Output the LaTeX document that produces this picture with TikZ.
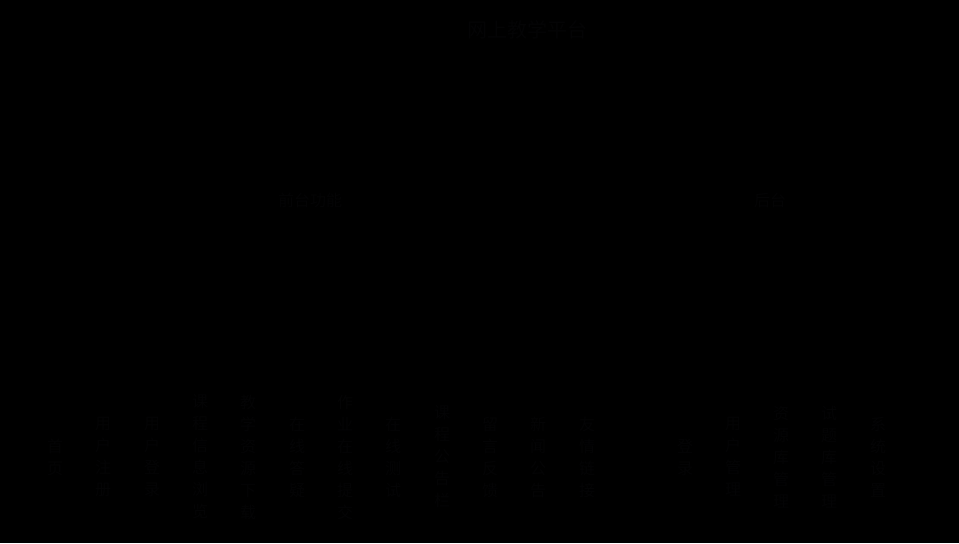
\documentclass[tikz,border=0pt]{standalone}
\usepackage{fontspec}
\setmainfont{Noto Sans CJK SC}
\usetikzlibrary{positioning}
\definecolor{ink}{RGB}{4,4,5}

\begin{document}
\begin{tikzpicture}[x=0.75pt, y=-0.75pt,
    top/.style={draw=black, text=ink, font=\fontsize{15}{18}\selectfont, inner sep=4pt},
    mid/.style={draw=black, text=ink, font=\fontsize{12}{15}\selectfont, inner sep=4pt},
    leaf/.style={draw=black, text=ink, font=\fontsize{12}{16.5}\selectfont, align=center, text width=12pt, inner sep=3pt},
    link/.style={draw=black, line width=0.6pt},
    ]
	% Background and frame
	\fill[black] (0,0) rectangle (959,543);
	\useasboundingbox (0,0) rectangle (959,543);

	% Root
	\node[top] (root) at (527,30) {网上教学平台};
	% Second level
	\node[mid] (front) at (310,200) {前台功能};
	\node[mid] (back) at (770,200) {后台};

	% Leaves: front
	\node[leaf] (f1) at (55,457) {首\\页};
	\node[leaf] (f2) at (103,457) {用\\户\\注\\册};
	\node[leaf] (f3) at (152,457) {用\\户\\登\\录};
	\node[leaf] (f4) at (200,457) {课\\程\\信\\息\\浏\\览};
	\node[leaf] (f5) at (248,457) {教\\学\\资\\源\\下\\载};
	\node[leaf] (f6) at (297,457) {在\\线\\答\\疑};
	\node[leaf] (f7) at (345,457) {作\\业\\在\\线\\提\\交};
	\node[leaf] (f8) at (393,457) {在\\线\\测\\试};
	\node[leaf] (f9) at (442,457) {课\\程\\公\\告\\栏};
	\node[leaf] (f10) at (490,457) {留\\言\\反\\馈};
	\node[leaf] (f11) at (538,457) {新\\闻\\公\\告};
	\node[leaf] (f12) at (587,457) {友\\情\\链\\接};
	% Leaves: back
	\node[leaf] (b1) at (685,457) {登\\录};
	\node[leaf] (b2) at (733,457) {用\\户\\管\\理};
	\node[leaf] (b3) at (781,457) {资\\源\\库\\管\\理};
	\node[leaf] (b4) at (829,457) {试\\题\\库\\管\\理};
	\node[leaf] (b5) at (878,457) {系\\统\\设\\置};

	% Root edges
	\draw[link] (root.south) -- ++(0,70) coordinate (rootbar);
	\draw[link] (rootbar) -| (front.north);
	\draw[link] (rootbar) -| (back.north);

	% Front edges
	\draw[link] (front.south) -- ++(0,95) coordinate (frontbar);
	\foreach \n in {f1,f2,f3,f4,f5,f6,f7,f8,f9,f10,f11,f12}
		\draw[link] (frontbar) -| (\n.north);

	% Back edges
	\draw[link] (back.south) -- ++(0,95) coordinate (backbar);
	\foreach \n in {b1,b2,b3,b4,b5}
		\draw[link] (backbar) -| (\n.north);
\end{tikzpicture}
\end{document}
